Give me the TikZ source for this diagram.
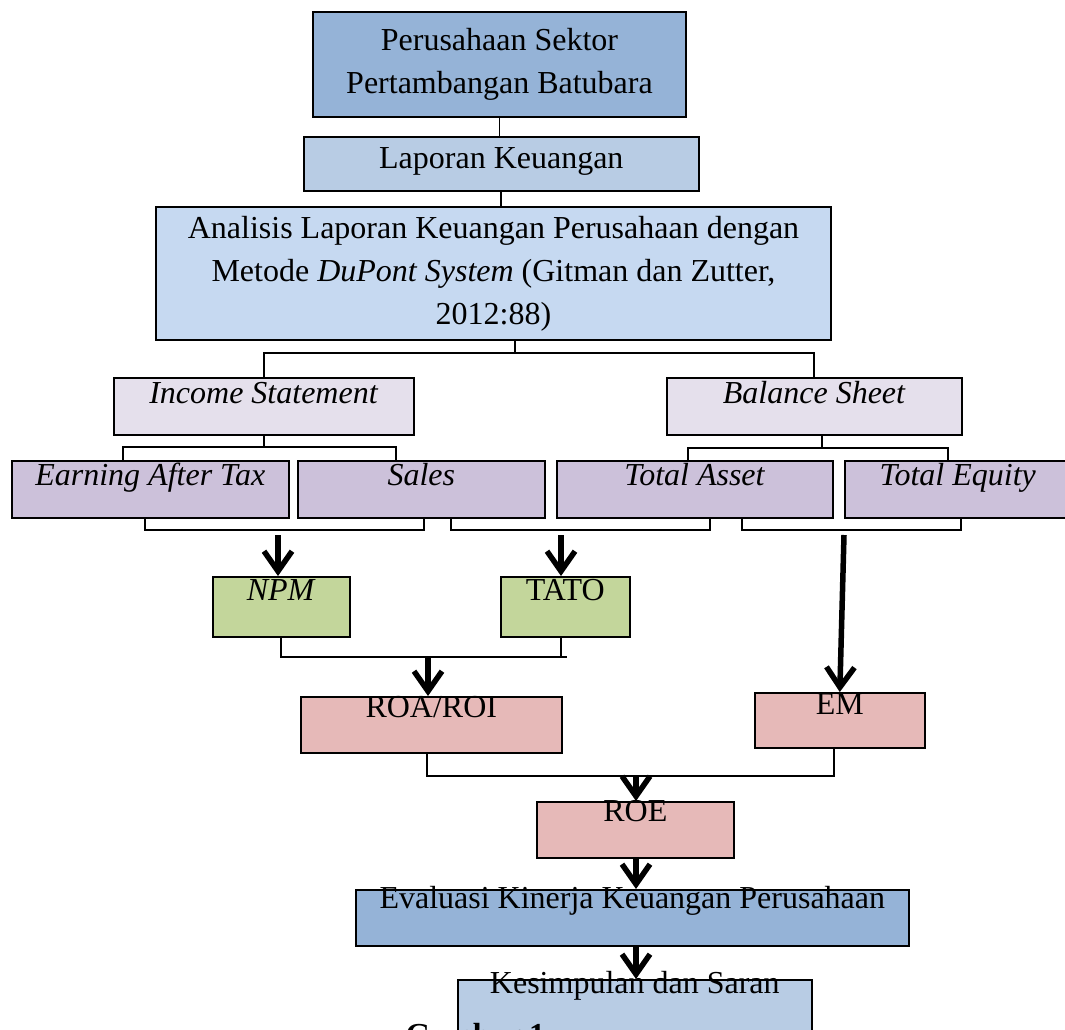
\documentclass[tikz,border=0pt]{standalone}
\usepackage{fontspec}
\setmainfont{Liberation Serif}
\usetikzlibrary{arrows.meta}
\definecolor{blueA}{HTML}{95B3D7}
\definecolor{blueB}{HTML}{B8CCE4}
\definecolor{blueC}{HTML}{C6D9F1}
\definecolor{lilacA}{HTML}{E5E0EC}
\definecolor{lilacB}{HTML}{CCC1DA}
\definecolor{greenA}{HTML}{C3D69B}
\definecolor{redA}{HTML}{E6B9B8}

\begin{document}
\begin{tikzpicture}[x=1pt,y=-1pt,
  font=\fontsize{32}{43}\selectfont,
  box/.style={draw, line width=1.6pt, anchor=north west, inner sep=0pt},
  line/.style={line width=1.7pt},
  arr/.style={line width=5.5pt, -{Straight Barb[length=20pt,width=28pt]}}]
\useasboundingbox (0,0) rectangle (1065,1030);
% boxes, top to bottom
\node[box, anchor=center, fill=blueA, align=center, minimum width=373pt, minimum height=105pt] (per) at (499.5,64.5) {Perusahaan Sektor\\Pertambangan Batubara};
\node[box, fill=blueB, minimum width=395pt, text height=32pt, text depth=22pt] (lap) at (303,136) {Laporan Keuangan};
\node[box, anchor=center, fill=blueC, align=center, minimum width=675pt, minimum height=133pt] (ana) at (493.5,273.5) {Analisis Laporan Keuangan Perusahaan dengan\\Metode \textit{DuPont System} (Gitman dan Zutter,\\2012:88)};
\node[box, fill=lilacA, minimum width=300pt, text height=26pt, text depth=31pt] (is) at (113,377) {\textit{Income Statement}};
\node[box, fill=lilacA, minimum width=295pt, text height=26pt, text depth=31pt] (bs) at (666,377) {\textit{Balance Sheet}};
\node[box, fill=lilacB, minimum width=277pt, text height=25pt, text depth=32pt] (eat) at (11,460) {\textit{Earning After Tax}};
\node[box, fill=lilacB, minimum width=247pt, text height=25pt, text depth=32pt] (sal) at (297,460) {\textit{Sales}};
\node[box, fill=lilacB, minimum width=276pt, text height=25pt, text depth=32pt] (ta) at (556,460) {\textit{Total Asset}};
\node[box, fill=lilacB, minimum width=226pt, text height=25pt, text depth=32pt] (te) at (844,460) {\textit{Total Equity}};
\node[box, fill=greenA, minimum width=137pt, text height=24pt, text depth=36pt] (npm) at (212,576) {\textit{NPM}};
\node[box, fill=greenA, minimum width=129pt, text height=24pt, text depth=36pt] (tato) at (500,576) {TATO};
\node[box, fill=redA, minimum width=261pt, text height=21pt, text depth=35pt] (roa) at (300,696) {ROA/ROI};
\node[box, fill=redA, minimum width=170pt, text height=22pt, text depth=33pt] (em) at (754,692) {EM};
\node[box, fill=redA, minimum width=197pt, text height=20pt, text depth=36pt] (roe) at (536,801) {ROE};
\node[box, fill=blueA, minimum width=553pt, text height=19pt, text depth=37pt] (eva) at (355,889) {Evaluasi Kinerja Keuangan Perusahaan};
\node[box, fill=blueB, minimum width=354pt, text height=14pt, text depth=60pt] (kes) at (457,979) {Kesimpulan dan Saran};
\node[anchor=base west, font=\fontsize{32}{43}\selectfont\bfseries] (cap) at (402,1045) {Gambar 1};
% tree lines
\draw[line] (per.south) -- (per.south |- lap.north);
\draw[line] (lap.south) -- (lap.south |- ana.north);
\coordinate (s1) at (515,353);
\draw[line] (s1 |- ana.south) -- (s1);
\draw[line] (is.north) |- (s1) -| (bs.north);
\coordinate (s2l) at (123,447); \coordinate (s2r) at (396,447);
\draw[line] (is.south) -- (is.south |- s2l);
\draw[line] (s2l |- eat.north) -- (s2l) -- (s2r) -- (s2r |- sal.north);
\coordinate (s3) at (822,448);
\coordinate (s3l) at (688,448); \coordinate (s3r) at (948,448);
\draw[line] (s3 |- bs.south) -- (s3);
\draw[line] (s3l |- ta.north) -- (s3l) -- (s3r) -- (s3r |- te.north);
% brackets under the boxes
\coordinate (b1l) at (145,530); \coordinate (b1r) at (424,530);
\draw[line] (b1l |- eat.south) -- (b1l) -- (b1r) -- (b1r |- sal.south);
\coordinate (b2l) at (451,530); \coordinate (b2r) at (710,530);
\draw[line] (b2l |- sal.south) -- (b2l) -- (b2r) -- (b2r |- ta.south);
\coordinate (b3l) at (742,530); \coordinate (b3r) at (961,530);
\draw[line] (b3l |- ta.south) -- (b3l) -- (b3r) -- (b3r |- te.south);
\coordinate (b4) at (561,657); \coordinate (b4r) at (567,657);
\draw[line] (npm.south) |- (b4r);
\draw[line] (b4 |- tato.south) -- (b4);
\coordinate (b5l) at (427,776); \coordinate (b5r) at (834,776);
\draw[line] (b5l |- roa.south) -- (b5l) -- (b5r) -- (b5r |- em.south);
% arrows
\coordinate (a1) at (278,535); \coordinate (a2) at (561,535);
\coordinate (a3) at (428,658); \coordinate (a4) at (844,535);
\coordinate (a5) at (636,777);
\draw[arr] (a1) -- (a1 |- npm.north);
\draw[arr] (a2) -- (a2 |- tato.north);
\draw[arr] (a3) -- (a3 |- roa.north);
\draw[arr] (a4) -- (em.north);
\draw[arr] (a5) -- (a5 |- roe.north);
\draw[arr] (a5 |- roe.south) -- (a5 |- eva.north);
\draw[arr] (a5 |- eva.south) -- (a5 |- kes.north);
\end{tikzpicture}
\end{document}
